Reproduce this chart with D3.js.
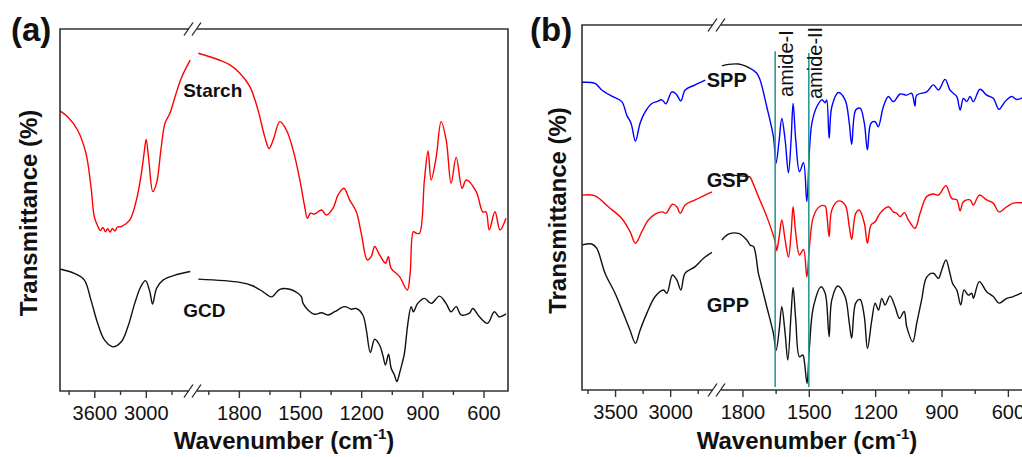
<!DOCTYPE html>
<html>
<head>
<meta charset="utf-8">
<script src="https://cdn.jsdelivr.net/npm/d3@7"></script>
<style>
  body { margin: 0; background: #fff; }
  svg { display: block; font-family: "Liberation Sans", Arial, sans-serif; }
</style>
</head>
<body>
<div id="chart"></div>
<script>
// ---- panel (a): [wavenumber, transmittance (a.u.)] ----
const starchLeft = [[4000,77.4],[3914,75.8],[3796,72.1],[3698,65.7],[3639,56.4],[3600,48.1],[3561,45.6],[3530,44.3],[3500,45.2],[3470,44.0],[3444,44.8],[3415,43.9],[3390,44.9],[3360,44.2],[3330,45.3],[3286,45.4],[3188,47.2],[3109,52.8],[3051,60.2],[3020,65.7],[2996,69.5],[2965,63.8],[2918,55.1],[2874,57.5],[2824,66.6],[2776,74.0],[2718,76.8],[2659,81.3],[2580,86.8],[2482,91.4]];
const starchRight = [[1999,93.3],[1900,91.5],[1844,90.1],[1795,87.8],[1746,84.1],[1706,77.6],[1673,70.2],[1652,67.0],[1632,69.3],[1599,74.4],[1567,72.1],[1534,66.6],[1501,58.3],[1477,50.9],[1464,47.7],[1449,49.1],[1428,48.9],[1395,50.0],[1371,48.6],[1338,50.5],[1314,54.1],[1285,56.0],[1257,52.8],[1224,49.5],[1200,43.6],[1170,36.2],[1151,37.1],[1134,39.9],[1110,37.6],[1081,35.3],[1067,37.1],[1053,33.9],[1012,31.6],[974,27.9],[960,32.5],[944,44.0],[930,43.6],[914,43.6],[890,58.3],[872,66.3],[857,58.3],[832,64.7],[808,74.4],[783,69.3],[759,57.4],[734,64.6],[705,56.0],[685,58.3],[636,55.1],[604,49.5],[588,49.5],[572,44.5],[544,49.5],[519,44.5],[490,47.7]];
const gcdLeft = [[4000,33.7],[3835,32.5],[3718,30.7],[3639,25.1],[3561,18.7],[3482,14.1],[3385,12.2],[3286,13.6],[3208,17.8],[3129,24.2],[3059,28.8],[3004,30.5],[2953,27.4],[2921,24.0],[2874,28.4],[2796,30.7],[2659,32.0],[2482,33.0]];
const gcdRight = [[1999,30.9],[1795,30.0],[1730,29.0],[1681,27.4],[1640,26.0],[1599,28.1],[1550,28.1],[1510,27.0],[1493,26.0],[1485,24.2],[1461,22.4],[1428,21.2],[1395,21.6],[1363,21.0],[1330,21.9],[1281,23.3],[1248,22.6],[1224,22.8],[1192,21.0],[1175,16.9],[1155,10.6],[1134,14.3],[1110,12.7],[1094,9.9],[1081,7.2],[1066,10.2],[1053,6.3],[1037,4.4],[1025,2.6],[1012,4.9],[999,7.7],[988,10.4],[971,18.7],[955,23.3],[944,21.9],[923,24.2],[890,25.6],[857,24.2],[816,26.2],[784,24.2],[759,21.9],[734,23.3],[710,21.0],[669,21.5],[653,22.8],[620,20.5],[580,18.7],[547,21.9],[523,20.5],[490,21.3]];

// ---- panel (b) ----
const sppLeft = [[3803,84.3],[3682,84.0],[3621,82.2],[3530,80.5],[3439,79.0],[3394,75.3],[3355,73.1],[3315,68.2],[3273,73.1],[3227,76.2],[3166,78.5],[3121,79.0],[3075,79.5],[3039,78.4],[2985,81.7],[2946,81.1],[2903,79.2],[2864,82.2],[2773,83.6],[2682,84.9]];
const sppStub = [[1893,88.8],[1863,89.2],[1818,89.3],[1788,88.8],[1765,88.1]];
const sppRight = [[1765,88.1],[1735,86.8],[1720,84.9],[1690,77.6],[1660,69.4],[1648,62.1],[1634,68.5],[1622,74.4],[1607,68.5],[1592,59.5],[1580,68.5],[1571,78.5],[1559,68.5],[1542,59.8],[1524,62.3],[1509,51.6],[1497,65.8],[1486,73.1],[1464,77.6],[1441,79.5],[1426,78.7],[1419,79.5],[1408,69.0],[1396,77.6],[1366,81.5],[1336,79.5],[1317,73.1],[1306,67.3],[1288,76.7],[1268,77.2],[1249,73.1],[1235,65.8],[1219,73.1],[1200,73.5],[1186,72.1],[1163,77.6],[1140,80.4],[1118,79.0],[1087,81.1],[1057,80.8],[1035,81.3],[1020,77.8],[1012,80.8],[967,81.7],[937,83.6],[914,82.2],[884,85.1],[862,82.2],[847,81.3],[831,80.4],[816,76.7],[801,79.9],[786,79.0],[771,80.4],[756,79.0],[726,82.4],[696,80.8],[666,79.9],[640,76.9],[613,79.0],[583,80.4],[560,79.6],[530,80.2]];

const gspLeft = [[3803,53.4],[3682,53.2],[3561,50.2],[3439,47.0],[3364,43.4],[3315,40.2],[3257,43.4],[3197,46.6],[3136,48.2],[3070,48.8],[3039,48.4],[2979,50.9],[2939,50.2],[2909,48.4],[2864,50.7],[2773,52.1],[2621,54.3]];
const gspStub = [[1893,58.9],[1833,58.8],[1765,58.4]];
const gspRight = [[1765,58.4],[1758,57.5],[1728,53.0],[1690,47.5],[1652,40.6],[1645,38.2],[1634,42.0],[1622,46.6],[1607,41.1],[1592,36.4],[1580,42.9],[1571,50.2],[1559,42.9],[1542,37.0],[1524,38.5],[1509,31.0],[1497,39.3],[1479,47.5],[1452,50.2],[1426,50.4],[1419,48.4],[1408,42.0],[1396,49.3],[1366,51.8],[1336,50.7],[1317,44.7],[1306,41.3],[1288,48.4],[1272,49.3],[1249,45.7],[1235,40.2],[1219,45.2],[1200,46.1],[1178,48.4],[1140,50.2],[1118,48.8],[1102,48.4],[1087,47.5],[1068,48.6],[1050,46.6],[1020,44.3],[997,48.4],[967,53.0],[937,53.7],[914,53.4],[880,56.0],[854,52.5],[831,52.1],[816,49.1],[801,51.6],[771,52.1],[756,50.7],[729,53.4],[696,52.1],[666,51.2],[640,48.8],[605,50.2],[576,51.2],[530,51.3]];

const gppLeft = [[3803,39.7],[3712,40.0],[3666,38.8],[3591,32.0],[3500,26.5],[3425,21.0],[3364,16.4],[3315,12.8],[3273,16.4],[3212,21.0],[3136,25.6],[3061,27.4],[3030,26.5],[2979,31.5],[2939,30.1],[2903,27.4],[2864,32.0],[2773,33.8],[2697,36.1],[2621,37.7]];
const gppRight = [[1893,41.1],[1863,42.7],[1818,42.9],[1780,41.1],[1765,39.7],[1750,39.3],[1728,32.0],[1720,30.1],[1690,22.8],[1660,15.5],[1648,10.8],[1634,16.4],[1622,22.8],[1607,15.5],[1595,8.2],[1580,21.0],[1571,28.1],[1559,19.2],[1542,9.1],[1527,9.6],[1520,7.8],[1508,1.8],[1497,11.9],[1479,22.8],[1444,28.3],[1426,26.5],[1419,23.8],[1408,14.6],[1396,24.7],[1369,28.5],[1336,25.6],[1317,18.3],[1306,14.2],[1288,23.8],[1268,24.8],[1249,20.1],[1235,11.4],[1215,19.2],[1200,23.8],[1185,21.9],[1170,25.1],[1155,23.3],[1133,25.8],[1110,22.8],[1090,19.6],[1069,21.5],[1057,17.3],[1030,13.2],[1012,18.3],[990,24.7],[967,30.9],[937,32.0],[914,30.6],[899,32.9],[880,35.6],[862,32.0],[850,29.2],[831,27.4],[813,23.3],[798,27.4],[779,26.0],[763,26.5],[756,25.1],[729,29.7],[696,26.9],[666,25.6],[640,23.8],[605,25.1],[576,25.6],[530,26.8]];

// amide band positions (cm-1) and tick values
const amideLines = [
  { w: 1652, label: "amide-I", top: 92.8, textV: 80.3, dx: 18 },
  { w: 1500, label: "amide-II", top: 92.3, textV: 79.7, dx: 13 }
];
const aMajorLeft = [3600, 3000], aMinorLeft = [3900, 3300, 2700];
const aMajorRight = [1800, 1500, 1200, 900, 600], aMinorRight = [1950, 1650, 1350, 1050, 750];
const bMajorLeft = [3500, 3000], bMinorLeft = [3750, 3250, 2750];
const bMajorRight = [1800, 1500, 1200, 900, 600], bMinorRight = [1650, 1350, 1050, 750];

const svg = d3.select("#chart").append("svg")
  .attr("width", 1022)
  .attr("height", 457);

function drawPanel(cfg) {
  const g = svg.append("g");
  const { left, right, top, bottom, brk } = cfg.box;

  const xL = d3.scaleLinear().domain(cfg.leftDomain).range([left, brk]);
  const xR = d3.scaleLinear().domain(cfg.rightDomain).range([brk, right]);
  const y = d3.scaleLinear().domain([0, 100]).range([bottom, top]);
  const xOf = w => (w > cfg.split ? xL(w) : xR(w));

  const line = d3.line()
    .x(d => xOf(d[0]))
    .y(d => y(d[1]))
    .curve(d3.curveCatmullRom.alpha(0.5));

  // spectra
  cfg.series.forEach(s => {
    g.append("path")
      .datum(s.data)
      .attr("d", line)
      .attr("fill", "none")
      .attr("stroke", s.color)
      .attr("stroke-width", 1.4)
      .attr("stroke-linejoin", "round");
  });

  // axes ticks, one axis per segment
  const bottomG = g.append("g").attr("transform", `translate(0,${bottom})`);
  [[xL, cfg.majorLeft, cfg.minorLeft], [xR, cfg.majorRight, cfg.minorRight]].forEach(([sc, major, minor]) => {
    const ax = bottomG.append("g")
      .call(d3.axisBottom(sc).tickValues(major).tickFormat(d3.format("d"))
        .tickSize(7).tickPadding(8).tickSizeOuter(0));
    ax.select(".domain").remove();
    ax.selectAll("line").attr("stroke", "#333").attr("stroke-width", 1.4);
    ax.selectAll("text").attr("font-size", 20).attr("fill", "#111")
      .attr("font-family", "'Liberation Sans', Arial, sans-serif");
    const mi = bottomG.append("g")
      .call(d3.axisBottom(sc).tickValues(minor).tickSize(4).tickFormat("").tickSizeOuter(0));
    mi.select(".domain").remove();
    mi.selectAll("line").attr("stroke", "#333").attr("stroke-width", 1.4);
  });

  // frame with broken top and bottom
  const gap = 4;
  const frame = g.append("g").attr("stroke", "#333").attr("stroke-width", 1.6).attr("fill", "none");
  frame.append("path").attr("d", `M${brk - gap},${top}H${left}V${bottom}H${brk - gap}`);
  frame.append("path").attr("d", `M${brk + gap},${top}H${right}V${bottom}H${brk + gap}`);
  [top, bottom].forEach(yy => {
    [-4.5, 3.5].forEach(dx => {
      frame.append("line")
        .attr("x1", brk + dx - 4.5).attr("y1", yy + 6.5)
        .attr("x2", brk + dx + 4.5).attr("y2", yy - 6.5)
        .attr("stroke", "#222").attr("stroke-width", 1.3);
    });
  });

  // curve labels
  cfg.labels.forEach(l => {
    g.append("text")
      .attr("x", xOf(l.w)).attr("y", y(l.v))
      .attr("font-size", l.size).attr("font-weight", "bold").attr("fill", "#111")
      .text(l.text);
  });

  // panel letter and axis titles
  g.append("text")
    .attr("x", cfg.letterX).attr("y", 41)
    .attr("font-size", 33).attr("font-weight", "bold").attr("fill", "#111")
    .text(cfg.letter);

  g.append("text")
    .attr("transform", `translate(${cfg.yTitleX},${(top + bottom) / 2 + 3}) rotate(-90)`)
    .attr("text-anchor", "middle")
    .attr("font-size", 24).attr("font-weight", "bold").attr("fill", "#111")
    .text("Transmittance (%)");

  const xt = g.append("text")
    .attr("x", cfg.xTitleX).attr("y", 449)
    .attr("text-anchor", "middle")
    .attr("font-size", 24).attr("font-weight", "bold").attr("fill", "#111");
  xt.append("tspan").text("Wavenumber (cm");
  xt.append("tspan").attr("font-size", 15).attr("dy", -10).text("-1");
  xt.append("tspan").attr("dy", 10).text(")");

  return { g, xOf, y };
}

drawPanel({
  box: { left: 60, right: 508, top: 29, bottom: 391, brk: 193 },
  leftDomain: [4000, 2450], rightDomain: [2025, 480], split: 2200,
  majorLeft: aMajorLeft, minorLeft: aMinorLeft, majorRight: aMajorRight, minorRight: aMinorRight,
  series: [
    { data: starchLeft, color: "#ff0000" }, { data: starchRight, color: "#ff0000" },
    { data: gcdLeft, color: "#111" }, { data: gcdRight, color: "#111" }
  ],
  labels: [
    { text: "Starch", w: 2565, v: 81.2, size: 19 },
    { text: "GCD", w: 2565, v: 20.4, size: 19 }
  ],
  letter: "(a)", letterX: 11, yTitleX: 37, xTitleX: 284
});

const pb = drawPanel({
  box: { left: 582, right: 1030, top: 25, bottom: 390, brk: 717 },
  leftDomain: [3800, 2575], rightDomain: [1915, 500], split: 2200,
  majorLeft: bMajorLeft, minorLeft: bMinorLeft, majorRight: bMajorRight, minorRight: bMinorRight,
  series: [
    { data: sppLeft, color: "#0000ff" }, { data: sppRight, color: "#0000ff" }, { data: sppStub, color: "#111" },
    { data: gspLeft, color: "#ff0000" }, { data: gspRight, color: "#ff0000" }, { data: gspStub, color: "#111" },
    { data: gppLeft, color: "#111" }, { data: gppRight, color: "#111" }
  ],
  labels: [
    { text: "SPP", w: 2668, v: 82.9, size: 20 },
    { text: "GSP", w: 2668, v: 55.6, size: 20 },
    { text: "GPP", w: 2668, v: 21.5, size: 20 }
  ],
  letter: "(b)", letterX: 530, yTitleX: 566, xTitleX: 807
});

// amide-I / amide-II markers
amideLines.forEach(a => {
  const x = pb.xOf(a.w);
  pb.g.append("line")
    .attr("x1", x).attr("x2", x)
    .attr("y1", pb.y(a.top)).attr("y2", pb.y(0.8))
    .attr("stroke", "#2f9a93").attr("stroke-width", 1.6);
  pb.g.append("text")
    .attr("transform", `translate(${x + a.dx},${pb.y(a.textV)}) rotate(-90)`)
    .attr("font-size", 20).attr("fill", "#111")
    .text(a.label);
});
</script>
</body>
</html>
